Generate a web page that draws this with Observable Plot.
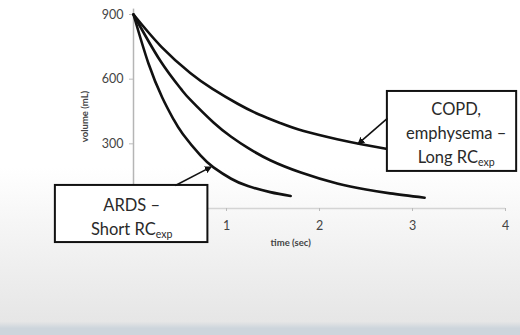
<!DOCTYPE html>
<html>
<head>
<meta charset="utf-8">
<script src="https://cdn.jsdelivr.net/npm/d3@7"></script>
<script src="https://cdn.jsdelivr.net/npm/@observablehq/plot@0.6"></script>
<style>
  html, body { margin: 0; padding: 0; }
  body {
    width: 520px; height: 335px; overflow: hidden;
    background: linear-gradient(to bottom, #ffffff 0%, #ffffff 50%, #f1f1f1 75%, #e6e6e6 96%, #cdd5dc 98%, #cdd5dc 100%);
  }
  #chart svg { display: block; }
</style>
</head>
<body>
<div id="chart"></div>
<script>
// Time (sec) and volume (mL)
const shortT = [0, 0.16, 0.31, 0.43, 0.53, 0.72, 0.86, 1.05, 1.23, 1.47, 1.69];
const shortV = [900, 674, 514, 414, 346, 246, 191, 138, 104, 76, 58];

const midT = [0, 0.29, 0.51, 0.61, 0.86, 1.05, 1.23, 1.47, 1.8, 2.19, 2.5, 2.76, 3.13];
const midV = [900, 684, 555, 505, 399, 333, 281, 224, 167, 116, 88, 70, 50];

const longT = [0, 0.3, 0.61, 0.85, 1.12, 1.35, 1.58, 1.83, 2.19, 2.45, 2.73];
const longV = [900, 750, 629, 555, 486, 436, 396, 359, 321, 298, 276];

const xTicks = [1, 2, 3, 4];
const yTicks = [300, 600, 900];
const xLabel = "time (sec)";
const yLabel = "volume (mL)";

const ardsLabel = "ARDS –\nShort RC_{exp}";
const copdLabel = "COPD,\nemphysema –\nLong RC_{exp}";

// annotation boxes / arrows in data coordinates
const ardsBox = {x1: -0.84, x2: 0.80, y1: -158, y2: 107};
const copdBox = {x1: 2.73, x2: 4.12, y1: 172, y2: 543};
const ardsArrow = {x1: 0.45, y1: 107, x2: 0.83, y2: 192};
const copdArrow = {x1: 2.73, y1: 418, x2: 2.42, y2: 302};

const toRows = (T, V) => T.map((t, i) => ({t, v: V[i]}));
const shortRows = toRows(shortT, shortV);
const midRows = toRows(midT, midV);
const longRows = toRows(longT, longV);

const lineOpts = {x: "t", y: "v", stroke: "#111", strokeWidth: 2.6, curve: "natural"};
const arrowOpts = {x1: "x1", y1: "y1", x2: "x2", y2: "y2", stroke: "#111", strokeWidth: 1.6, markerEnd: "arrow"};

const plot = Plot.plot({
  width: 520,
  height: 335,
  marginLeft: 133,
  marginRight: 15,
  marginTop: 14,
  marginBottom: 127,
  x: {domain: [0, 4], axis: null},
  y: {domain: [0, 900], axis: null},
  style: {background: "transparent", fontFamily: "Lato, 'Open Sans', sans-serif", overflow: "visible"},
  marks: [
    Plot.ruleY([0], {x1: 0, x2: 4, stroke: "#d4d4d4", strokeWidth: 1.5}),
    Plot.ruleX([0], {y1: -120, y2: 925, stroke: "#b5b5b5", strokeWidth: 1.5}),
    Plot.axisX(xTicks, {anchor: "bottom", tickSize: 3, tickPadding: 10, stroke: "#bbb", color: "#444", fontSize: 12.5, label: null}),
    Plot.axisY(yTicks, {anchor: "left", tickSize: 4, tickPadding: 6, stroke: "#bbb", color: "#444", fontSize: 12.5, label: null}),
    Plot.text([xLabel], {x: 1.69, y: -162, text: d => d, fontSize: 9.5, fontWeight: "bold", fill: "#444"}),
    Plot.text([yLabel], {x: -0.52, y: 427, text: d => d, rotate: -90, fontSize: 9.5, fontWeight: "bold", fill: "#444"}),
    Plot.line(longRows, lineOpts),
    Plot.line(midRows, lineOpts),
    Plot.line(shortRows, lineOpts),
    Plot.rect([ardsBox], {x1: "x1", x2: "x2", y1: "y1", y2: "y2", fill: "white", stroke: "#111", strokeWidth: 2}),
    Plot.rect([copdBox], {x1: "x1", x2: "x2", y1: "y1", y2: "y2", fill: "white", stroke: "#111", strokeWidth: 2}),
    Plot.link([ardsArrow], arrowOpts),
    Plot.link([copdArrow], arrowOpts),
    Plot.text([ardsLabel], {x: -0.02, y: -30, text: d => d, fontSize: 16.5, lineHeight: 1.45, fill: "#2a2a2a"}),
    Plot.text([copdLabel], {x: 3.47, y: 357, text: d => d, fontSize: 16.5, lineHeight: 1.45, fill: "#2a2a2a"})
  ]
});

// filled triangular arrowheads
d3.select(plot).selectAll("marker path")
  .attr("d", "M-5.5,-3.5L1.5,0L-5.5,3.5Z")
  .attr("fill", "#111")
  .attr("stroke", "none");

// turn "_{exp}" into a subscript
d3.select(plot).selectAll("text, tspan").each(function() {
  if (this.children.length === 0 && this.textContent.includes("_{")) {
    const m = this.textContent.match(/^(.*)_\{(.*)\}$/);
    if (!m) return;
    this.textContent = m[1];
    d3.select(this).append("tspan").attr("dy", "0.32em").attr("font-size", "0.64em").text(m[2]);
  }
});

document.getElementById("chart").appendChild(plot);
</script>
</body>
</html>
